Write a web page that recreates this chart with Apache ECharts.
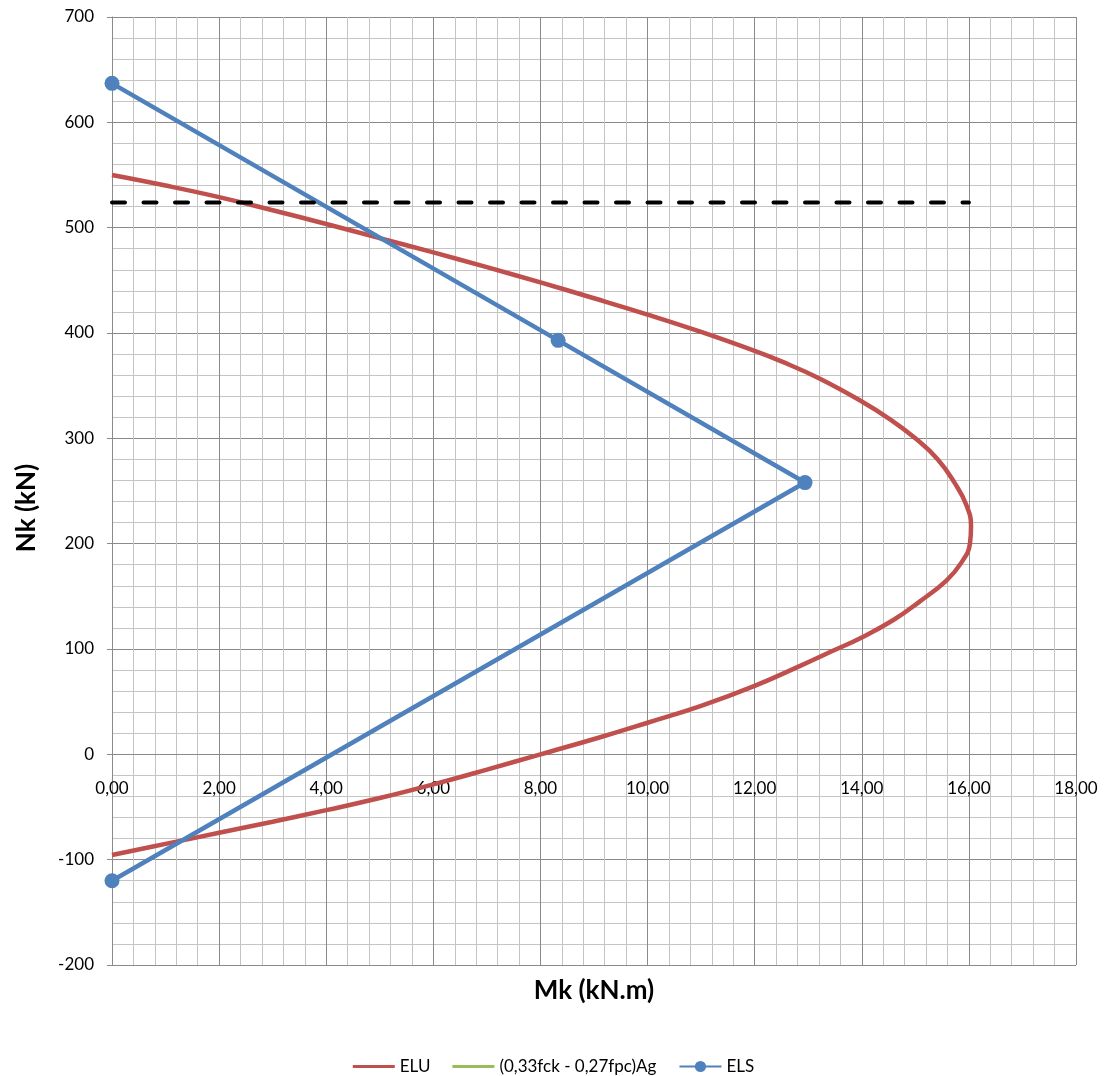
<!DOCTYPE html>
<html>
<head>
<meta charset="utf-8">
<title>Diagrama de interação Nk x Mk</title>
<script src="https://cdn.jsdelivr.net/npm/echarts@6/dist/echarts.min.js"></script>
<style>
  html, body { margin: 0; padding: 0; background: #ffffff; }
  #chart { width: 1107px; height: 1076px; }
</style>
</head>
<body>
<div id="chart"></div>
<script>
// Envoltória ELU: pares [Mk (kN.m), Nk (kN)], do ramo superior ao inferior
const eluPoints = [
  [0, 550], [1, 540], [2, 529], [3, 516.5], [4, 503.5], [5, 490],
  [6, 476.5], [7, 462.5], [8, 448], [9, 433], [10, 417.5], [11, 401],
  [12, 383], [12.5, 373], [13.2, 357], [14, 335], [14.5, 319],
  [15, 300], [15.42, 280], [15.73, 258], [15.95, 237], [16.04, 217],
  [16.02, 200], [15.86, 182], [15.58, 165], [15.08, 145], [14.59, 127.5],
  [14, 111], [13.47, 98.5], [12.85, 84], [12, 65], [11, 46], [10, 30],
  [9.1, 16], [8, 0], [7, -14.5], [6, -28.5], [5, -41.5], [4, -53],
  [3, -64], [2, -74.5], [1, -85], [0, -95.5]
];

// Série (0,33fck - 0,27fpc)Ag (sem pontos no trecho exibido)
const limitPoints = [];

// Pontos de verificação ELS
const elsPoints = [[0, 637], [8.33, 393], [12.94, 258], [0, -120]];

// Linha tracejada de referência de Nk
const nkRefLine = [[0, 524], [16, 524]];

// Escalas dos eixos
const xTicks = { min: 0, max: 18, step: 2 };
const yTicks = { min: -200, max: 700, step: 100 };

const FONT = 'Lato, "Open Sans", sans-serif';
const MAJOR = '#8a8a8a';
const MINOR = '#c4c4c4';

// Área de plotagem
const W = 1107, H = 1076;
const plot = { left: 112, right: 31, top: 17, bottom: 111 };
const plotHeight = H - plot.top - plot.bottom;
// O eixo das abscissas cruza o eixo das ordenadas em Nk = 0
const xAxisShift = -plotHeight * (0 - yTicks.min) / (yTicks.max - yTicks.min);

// Ícone de legenda em forma de traço (séries sem marcador)
const dashIcon = 'path://M0,0L42,0L42,3L0,3Z';

const chart = echarts.init(document.getElementById('chart'), null, { renderer: 'canvas' });

chart.setOption({
  backgroundColor: '#ffffff',
  animation: false,
  textStyle: { fontFamily: FONT },
  grid: { left: plot.left, right: plot.right, top: plot.top, bottom: plot.bottom, containLabel: false },
  legend: {
    data: [
      { name: 'ELU', icon: dashIcon },
      { name: '(0,33fck - 0,27fpc)Ag', icon: dashIcon },
      { name: 'ELS' }
    ],
    left: 'center',
    top: 1053,
    itemWidth: 42,
    itemHeight: 14,
    itemGap: 22,
    symbolKeepAspect: true,
    textStyle: { fontFamily: FONT, fontSize: 17, color: '#000000' }
  },
  xAxis: {
    type: 'value',
    min: xTicks.min,
    max: xTicks.max,
    interval: xTicks.step,
    offset: xAxisShift,
    axisLine: { onZero: false, lineStyle: { color: MAJOR, width: 1 } },
    axisTick: { show: false },
    minorTick: { show: false, splitNumber: 5 },
    axisLabel: {
      margin: 26,
      fontSize: 17,
      color: '#000000',
      fontFamily: FONT,
      formatter: v => v.toFixed(2).replace('.', ',')
    },
    splitLine: { show: true, lineStyle: { color: MAJOR, width: 1 } },
    minorSplitLine: { show: true, lineStyle: { color: MINOR, width: 1 } }
  },
  yAxis: {
    type: 'value',
    min: yTicks.min,
    max: yTicks.max,
    interval: yTicks.step,
    axisLine: { show: true, onZero: false, lineStyle: { color: MAJOR, width: 1 } },
    axisTick: { show: true, inside: false, length: 5, lineStyle: { color: MAJOR } },
    minorTick: { show: false, splitNumber: 5 },
    axisLabel: { margin: 18, fontSize: 17, color: '#000000', fontFamily: FONT },
    splitLine: { show: true, lineStyle: { color: MAJOR, width: 1 } },
    minorSplitLine: { show: true, lineStyle: { color: MINOR, width: 1 } }
  },
  graphic: [
    {
      type: 'text',
      x: plot.left + (W - plot.left - plot.right) / 2, y: 991,
      style: {
        text: 'Mk (kN.m)',
        fontFamily: FONT, fontWeight: 'bold', fontSize: 26,
        fill: '#000000', align: 'center', verticalAlign: 'middle'
      }
    },
    {
      type: 'text',
      x: 27, y: 508,
      rotation: Math.PI / 2,
      style: {
        text: 'Nk (kN)',
        fontFamily: FONT, fontWeight: 'bold', fontSize: 26,
        fill: '#000000', align: 'center', verticalAlign: 'middle'
      }
    }
  ],
  series: [
    {
      name: 'ELU',
      type: 'line',
      data: eluPoints,
      smooth: 0.45,
      showSymbol: false,
      symbol: 'none',
      lineStyle: { color: '#C0504D', width: 4.5 },
      itemStyle: { color: '#C0504D' },
      z: 2
    },
    {
      name: '(0,33fck - 0,27fpc)Ag',
      type: 'line',
      data: limitPoints,
      symbol: 'none',
      lineStyle: { color: '#9BBB59', width: 3 },
      itemStyle: { color: '#9BBB59' },
      z: 2
    },
    {
      name: 'ELS',
      type: 'line',
      data: elsPoints,
      symbol: 'circle',
      symbolSize: 15,
      lineStyle: { color: '#4F81BD', width: 4.5 },
      itemStyle: { color: '#4F81BD' },
      z: 3
    },
    {
      name: 'Nk ref',
      type: 'line',
      data: nkRefLine,
      symbol: 'none',
      lineStyle: { color: '#000000', width: 4, type: [13, 18.5], cap: 'round' },
      z: 4
    }
  ]
});
</script>
</body>
</html>
